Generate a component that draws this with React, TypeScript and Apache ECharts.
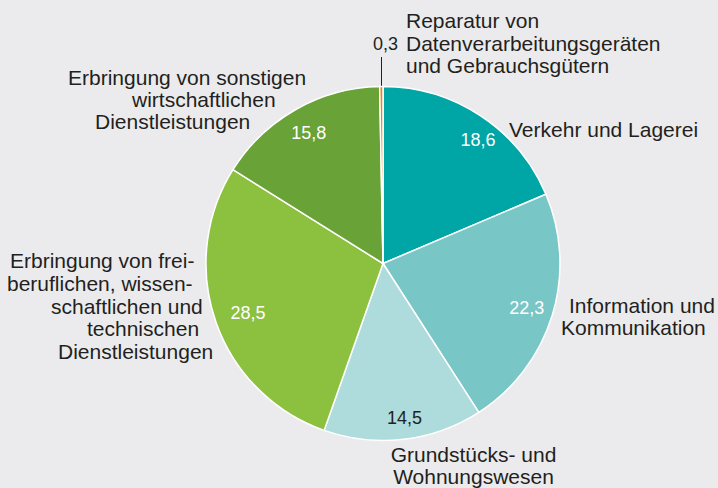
import React, { useEffect, useRef } from "react";
import * as echarts from "echarts";

const categories = [
  "Verkehr und Lagerei",
  "Information und Kommunikation",
  "Grundstücks- und Wohnungswesen",
  "Erbringung von freiberuflichen, wissenschaftlichen und technischen Dienstleistungen",
  "Erbringung von sonstigen wirtschaftlichen Dienstleistungen",
  "Reparatur von Datenverarbeitungsgeräten und Gebrauchsgütern",
];
const values = [18.6, 22.3, 14.5, 28.5, 15.8, 0.3];
const colors = ["#00a5a5", "#79c6c6", "#aedbdb", "#8cc03f", "#69a236", "#e5871d"];
const valueLabelColors = ["#ffffff", "#ffffff", "#231f20", "#ffffff", "#ffffff", "#231f20"];

// Display lines of the category names, as typeset in the reference
const labelLines: string[][] = [
  ["Verkehr und Lagerei"],
  ["Information und", "Kommunikation"],
  ["Grundstücks- und\nWohnungswesen"],
  ["Erbringung von frei-", "beruflichen, wissen-", "schaftlichen und", "technischen", "Dienstleistungen"],
  ["Erbringung von sonstigen", "wirtschaftlichen", "Dienstleistungen"],
  ["Reparatur von", "Datenverarbeitungsgeräten", "und Gebrauchsgütern"],
];

// Layout (positions of each label line): [x, y]
const labelPos: number[][][] = [
  [[509, 129]],
  [[569, 305.5], [561, 327.5]],
  [[473.5, 465.5]],
  [[10, 260.5], [7, 283], [51, 306], [87, 328], [58, 351]],
  [[68, 77.5], [132, 99], [95, 121]],
  [[406, 20.5], [406, 43.5], [406, 65.5]],
];
const labelAlign = ["left", "left", "center", "left", "left", "left"];

const FONT = "'Liberation Sans', Arial, Helvetica, sans-serif";
const TEXT = "#231f20";
const fmt = (v: number) => String(v).replace(".", ",");

export default function App() {
  const ref = useRef<HTMLDivElement>(null);
  useEffect(() => {
    document.body.style.margin = "0";
    document.body.style.background = "#ebebed";
    const chart = echarts.init(ref.current!, null, { renderer: "svg" });
    const data = categories.map((name, i) => ({
      name,
      value: values[i],
      itemStyle: { color: colors[i] },
    }));
    const graphics: any[] = [];
    labelLines.forEach((lines, i) => {
      lines.forEach((t, j) => {
        graphics.push({
          type: "text",
          x: labelPos[i][j][0],
          y: labelPos[i][j][1],
          style: {
            text: t,
            font: `21px ${FONT}`,
            lineHeight: 22,
            fill: TEXT,
            align: labelAlign[i],
            verticalAlign: "middle",
          },
        });
      });
    });
    // small slice value + leader line
    graphics.push({
      type: "text",
      x: 373,
      y: 43.5,
      style: {
        text: fmt(values[5]),
        font: `18px ${FONT}`,
        fill: TEXT,
        align: "left",
        verticalAlign: "middle",
      },
    });
    graphics.push({
      type: "line",
      shape: { x1: 381.5, y1: 57, x2: 381.5, y2: 87 },
      style: { stroke: TEXT, lineWidth: 1 },
    });

    chart.setOption({
      animation: false,
      backgroundColor: "#ebebed",
      graphic: graphics,
      series: [
        {
          type: "pie",
          center: [383, 263.5],
          radius: [0, 177],
          startAngle: 90,
          clockwise: true,
          avoidLabelOverlap: false,
          minAngle: 0,
          itemStyle: { borderColor: "#ffffff", borderWidth: 1.5 },
          label: { show: false },
          labelLine: { show: false },
          silent: true,
          data,
        },
        {
          type: "pie",
          center: [383, 263.5],
          radius: [118, 177],
          startAngle: 90,
          clockwise: true,
          avoidLabelOverlap: false,
          silent: true,
          itemStyle: { color: "transparent", borderWidth: 0 },
          labelLine: { show: false },
          labelLayout: (p: any) =>
            p.dataIndex === 0
              ? { dx: 12, dy: 2 }
              : p.dataIndex === 2
              ? { dx: 4, dy: 5 }
              : p.dataIndex === 3
              ? { dx: 7 }
              : {},
          data: data.map((d, i) => ({
            name: d.name,
            value: d.value,
            itemStyle: { color: "transparent" },
            label: {
              show: i !== 5,
              position: "inside",
              formatter: fmt(values[i]),
              color: valueLabelColors[i],
              fontSize: 18,
              fontFamily: FONT,
            },
          })),
        },
      ],
    });
    return () => chart.dispose();
  }, []);
  return (
    <div
      ref={ref}
      style={{ position: "fixed", left: 0, top: 0, width: 718, height: 488 }}
    />
  );
}
